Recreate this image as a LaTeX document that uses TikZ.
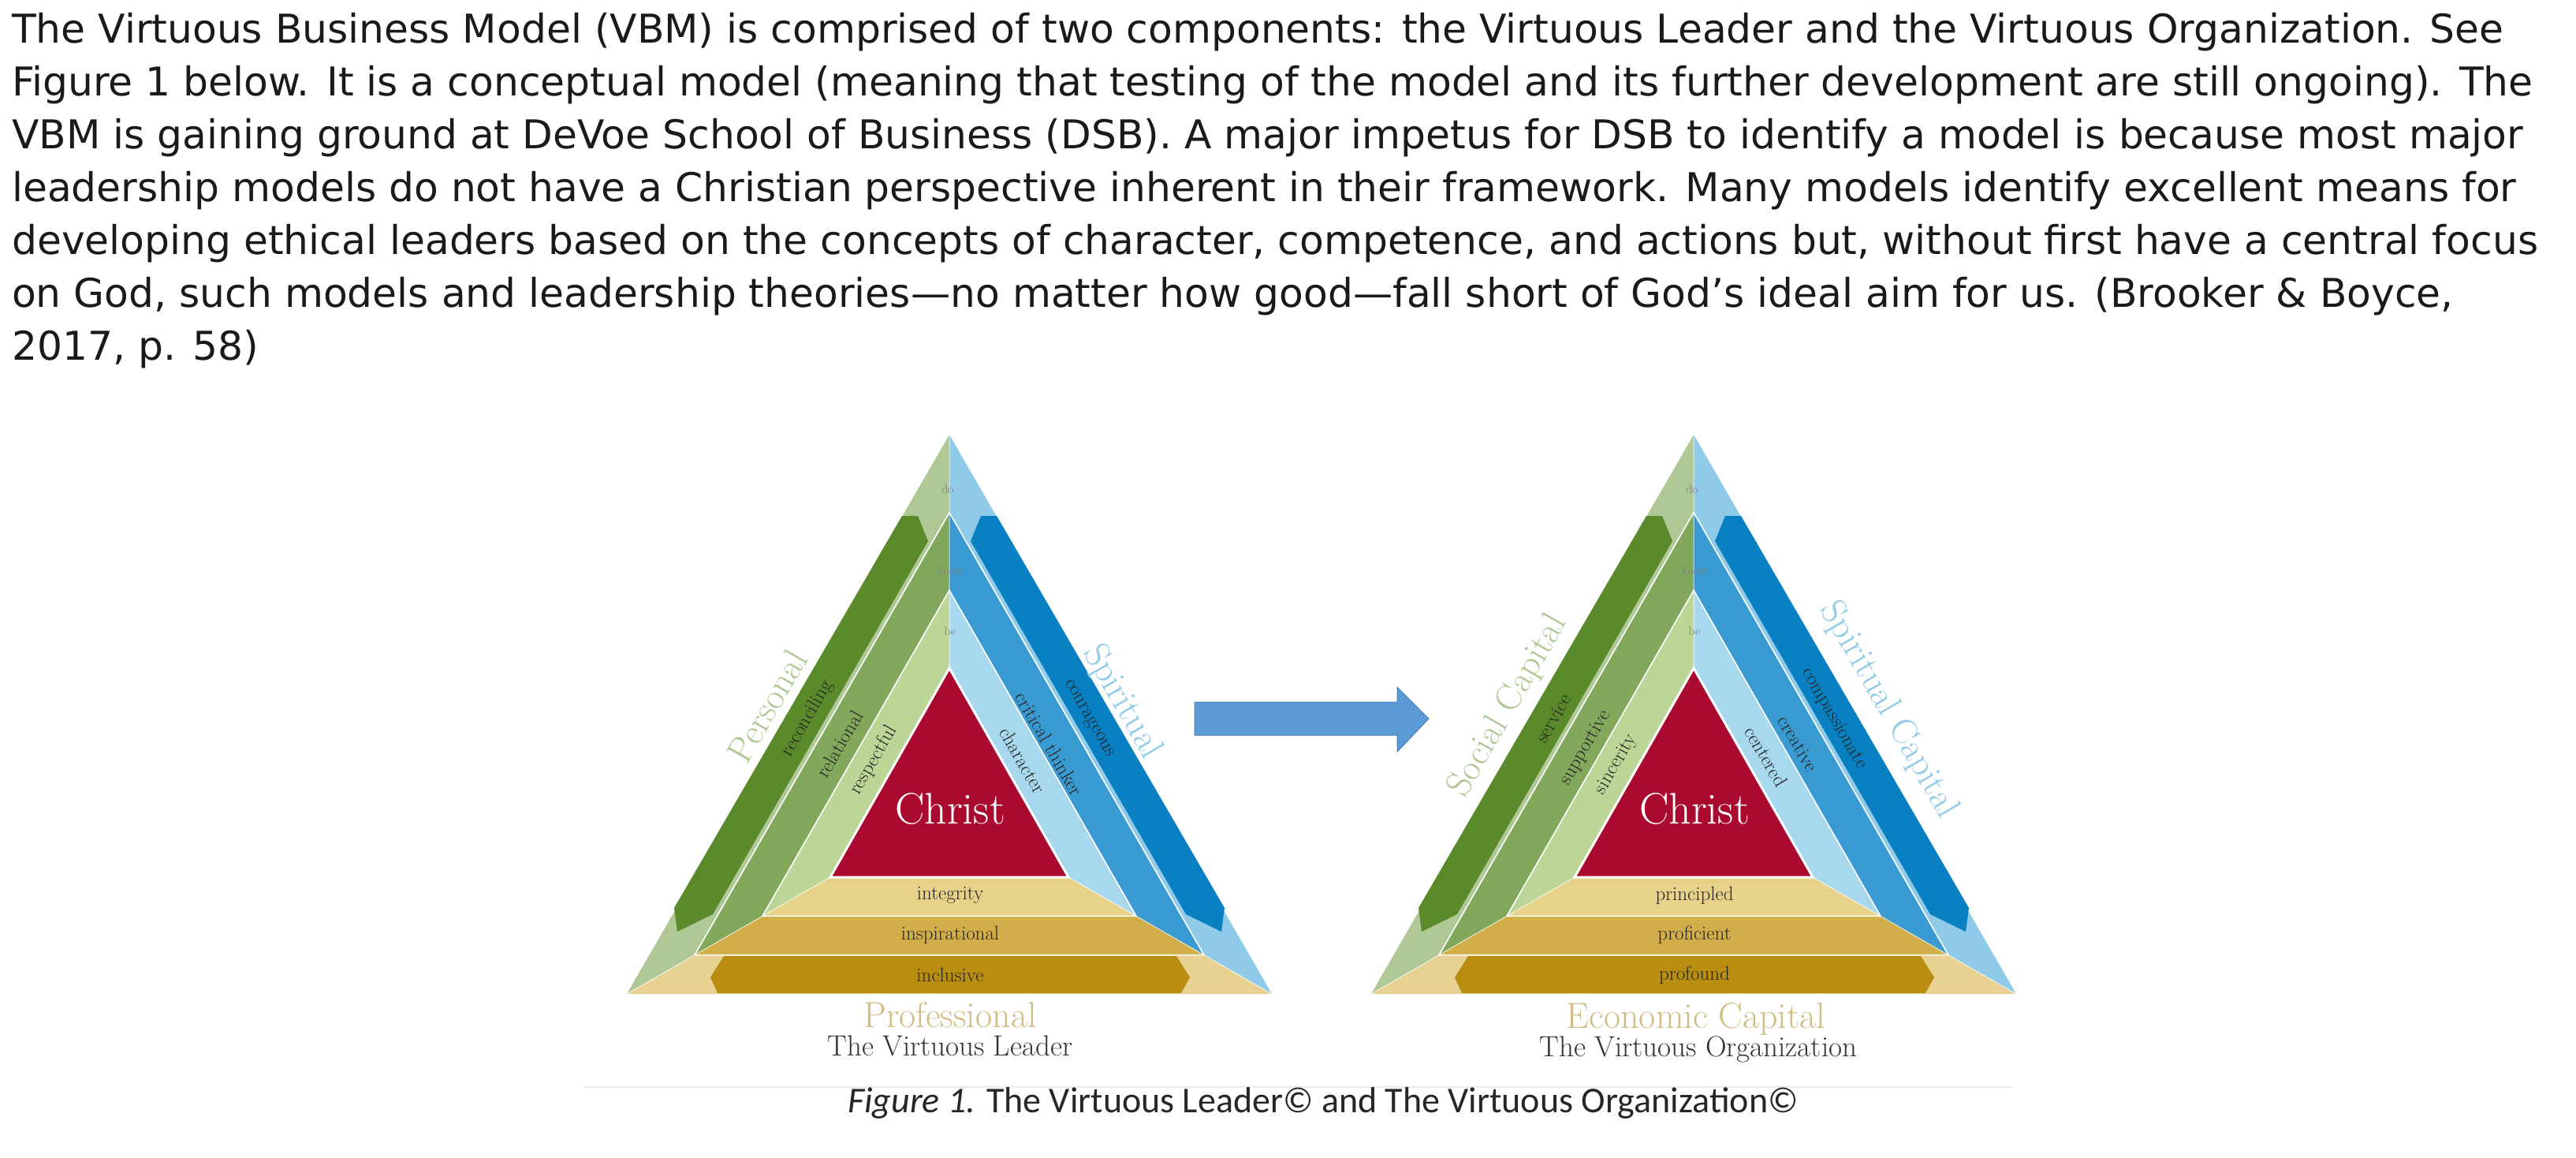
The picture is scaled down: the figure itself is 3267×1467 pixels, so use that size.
\documentclass[tikz,border=0pt]{standalone}
\usepackage{fontspec}
\newfontfamily\parafont{DejaVu Sans}
\newfontfamily\capfont{Carlito}
\definecolor{gl0}{HTML}{B0C896}
\definecolor{gl1}{HTML}{82A85C}
\definecolor{gl2}{HTML}{BDD597}
\definecolor{gbar}{HTML}{5A8A2A}
\definecolor{bl0}{HTML}{8FCBE8}
\definecolor{bl1}{HTML}{3A9AD2}
\definecolor{bl2}{HTML}{A8D8EE}
\definecolor{bbar}{HTML}{0880C2}
\definecolor{yl0}{HTML}{E8D293}
\definecolor{yl1}{HTML}{D2AE4A}
\definecolor{yl2}{HTML}{E7D28A}
\definecolor{goldbar}{HTML}{B98E10}
\definecolor{christ}{HTML}{AA0A30}
\definecolor{arrowc}{HTML}{5B9BD5}
\definecolor{arrowd}{HTML}{4A7EBB}
\definecolor{txt}{HTML}{1A1A1A}
\tikzset{
 para/.style={anchor=base west,inner sep=0,font=\parafont\fontsize{50.3}{60}\selectfont,text=txt},
 small/.style={inner sep=0,font=\fontsize{25}{27}\selectfont,text=black!85},
 tiny/.style={inner sep=0,font=\fontsize{16}{17}\selectfont,text=black!50},
 big/.style={inner sep=0,font=\fontsize{46}{50}\selectfont},
 wl/.style={draw=white,line width=1.6pt},
}
\newcommand{\drawtri}{%
 \foreach \i/\t in {0/0,1/0.3333,2/0.6667,3/1}{
  \coordinate (A\i) at (0,296*\t);
  \coordinate (L\i) at (-409+258*\t,709-148*\t);
  \coordinate (R\i) at (409-258*\t,709-148*\t);}
 \foreach \i/\j/\c in {0/1/0,1/2/1,2/3/2}{
  \fill[fill=gl\c] (A\i)--(L\i)--(L\j)--(A\j)--cycle;
  \fill[fill=bl\c] (A\i)--(R\i)--(R\j)--(A\j)--cycle;
  \fill[fill=yl\c] (L\i)--(R\i)--(R\j)--(L\j)--cycle;}
 \fill[fill=gbar] (-60,103)--(-40,103)--(-27,135)--(-300,608)--(-345,630)--(-349,600)--cycle;
 \fill[fill=bbar] (60,103)--(40,103)--(27,135)--(300,608)--(345,630)--(349,600)--cycle;
 \fill[fill=goldbar] (-286,661)--(288,661)--(305,688)--(294,708)--(-294,708)--(-303,688)--cycle;
 \draw[wl] (A1)--(L1)--(R1)--cycle (A2)--(L2)--(R2)--cycle;
 \draw[white,line width=1pt,opacity=.7] (A0)--(A3) (L0)--(L3) (R0)--(R3);
 \fill[fill=christ,draw=white,line width=3pt] (A3)--(L3)--(R3)--cycle;
 \node[tiny] (do) at (-2,69) {do};
 \node[tiny] (know) at (1,172) {know};
 \node[tiny] (be) at (1,249) {be};
 \node[inner sep=0,text=white,font=\fontsize{56}{60}\selectfont] (christ) at (1,474) {Christ};
}
\begin{document}
\begin{tikzpicture}[x=1pt,y=-1pt]
\useasboundingbox (0,0) rectangle (3267,1467);
\fill[white] (0,0) rectangle (3267,1467);
\node[para] (p1) at (15,54) {The Virtuous Business Model (VBM) is comprised of two components: the Virtuous Leader and the Virtuous Organization. See};
\node[para] (p2) at (15,121) {Figure 1 below. It is a conceptual model (meaning that testing of the model and its further development are still ongoing). The};
\node[para] (p3) at (15,188) {VBM is gaining ground at DeVoe School of Business (DSB). A major impetus for DSB to identify a model is because most major};
\node[para] (p4) at (15,255) {leadership models do not have a Christian perspective inherent in their framework. Many models identify excellent means for};
\node[para] (p5) at (15,322) {developing ethical leaders based on the concepts of character, competence, and actions but, without first have a central focus};
\node[para] (p6) at (15,389) {on God, such models and leadership theories—no matter how good—fall short of God’s ideal aim for us. (Brooker \& Boyce,};
\node[para] (p7) at (15,456) {2017, p. 58)};
% left triangle
\begin{scope}[shift={(1204,551)}]
 \drawtri
 \node[big,text=gl0,rotate=60] (pers) at (-231,344) {Personal};
 \node[small,rotate=60] (rec) at (-180,360) {reconciling};
 \node[small,rotate=60] (rel) at (-139,392) {relational};
 \node[small,rotate=60] (res) at (-96,413) {respectful};
 \node[big,text=bl0,rotate=-60] (spir) at (219,339) {Spiritual};
 \node[small,rotate=-60] (cou) at (176,360) {courageous};
 \node[small,rotate=-60] (cri) at (127,392) {critical thinker};
 \node[small,rotate=-60] (cha) at (93,413) {character};
 \node[small] (int) at (1,584) {integrity};
 \node[small] (ins) at (1,634) {inspirational};
 \node[small] (inc) at (1,685) {inclusive};
 \node[big,text=yl0!90!black] (prof) at (1,736) {Professional};
 \node[inner sep=0,text=black!80,font=\fontsize{37}{39}\selectfont] (tvl) at (1,775) {The Virtuous Leader};
\end{scope}
% arrow
\fill[fill=arrowc,draw=arrowd,line width=1pt] (1515,890)--(1772,890)--(1772,871)--(1812,911)--(1772,953)--(1772,932)--(1515,932)--cycle;
% right triangle
\begin{scope}[shift={(2148,551)}]
 \drawtri
 \node[big,text=gl0,rotate=60] (soc) at (-235,344) {Social Capital};
 \node[small,rotate=60] (ser) at (-178,360) {service};
 \node[small,rotate=60] (sup) at (-137,397) {supportive};
 \node[small,rotate=60] (sin) at (-98,418) {sincerity};
 \node[big,text=bl0,rotate=-60] (spc) at (247,349) {Spiritual Capital};
 \node[small,rotate=-60] (com) at (178,360) {compassionate};
 \node[small,rotate=-60] (cre) at (132,392) {creative};
 \node[small,rotate=-60] (cen) at (92,408) {centered};
 \node[small] (pri) at (1,584) {principled};
 \node[small] (prf) at (1,634) {proficient};
 \node[small] (pro) at (1,685) {profound};
 \node[big,text=yl0!90!black] (eco) at (3,741) {Economic Capital};
 \node[inner sep=0,text=black!80,font=\fontsize{37}{39}\selectfont] (tvo) at (6,779) {The Virtuous Organization};
\end{scope}
\draw[black!8,line width=2pt] (740,1378)--(2552,1378);
\node[inner sep=0,anchor=base,font=\capfont\fontsize{46}{48}\selectfont,text=black!85] (cap) at (1678,1410) {\textit{Figure 1.} The Virtuous Leader© and The Virtuous Organization©};
\end{tikzpicture}
\end{document}
